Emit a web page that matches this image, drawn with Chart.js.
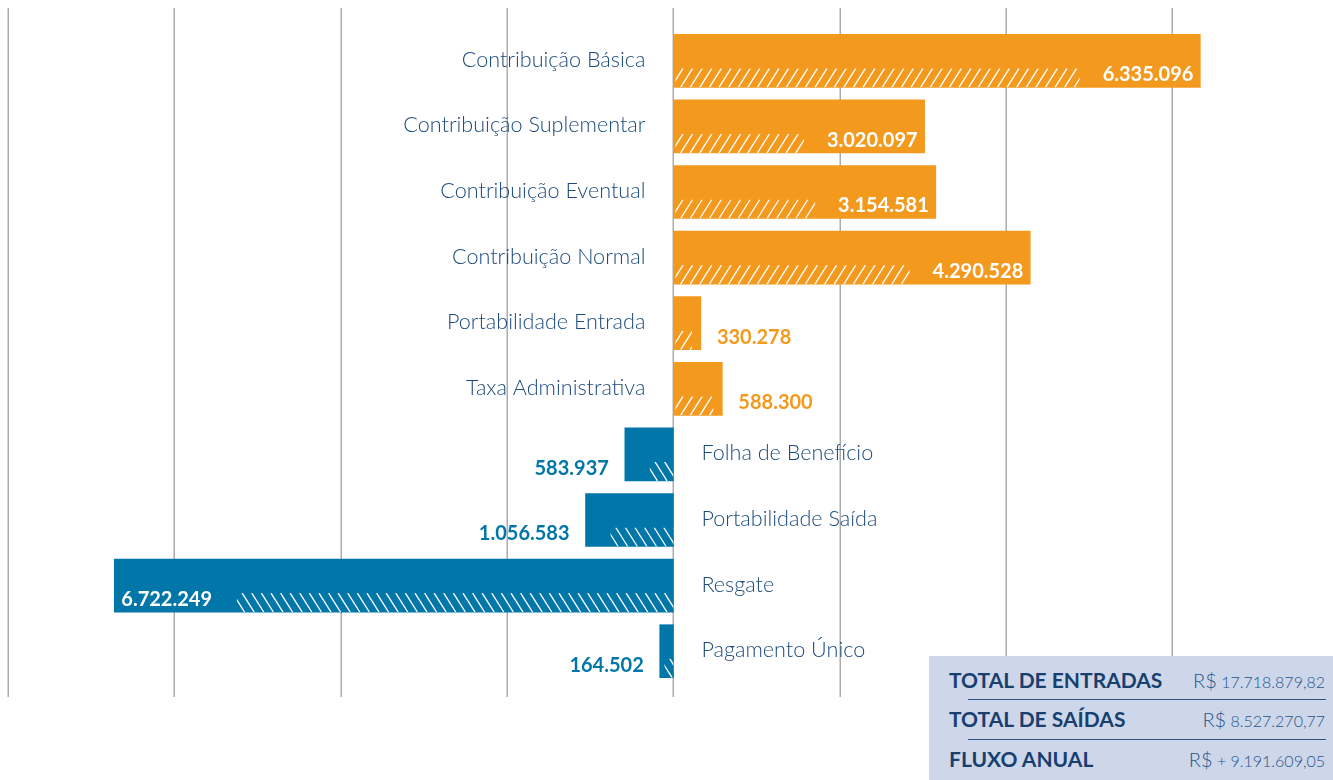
<!DOCTYPE html>
<html><head><meta charset="utf-8">
<script src="https://cdn.jsdelivr.net/npm/chart.js@4.4.1/dist/chart.umd.min.js"></script>
<style>
html,body{margin:0;padding:0;background:#fff;}
#wrap{position:relative;width:1333px;height:780px;overflow:hidden;}
#c{position:absolute;left:0;top:0;}
#totals{position:absolute;left:929px;top:656px;width:404px;height:124px;background:#CED7EA;font-family:Lato,"Open Sans",sans-serif;color:#17406F;}
.row{position:absolute;left:20px;right:8px;height:30px;line-height:30px;}
.row .k{position:absolute;left:0;top:0;font-weight:700;font-size:21px;}
.row .v{position:absolute;right:0;top:0;font-weight:300;color:#22568A;white-space:nowrap;}
.row .v .cur{font-size:20px;}
.row .v .num{font-size:16px;}
.sep{position:absolute;left:39px;right:7px;height:0;border-top:1.5px solid #2B5687;}
</style>
</head><body>
<div id="wrap">
<canvas id="c" width="1333" height="780"></canvas>
<div id="totals"></div>
</div>
<script>
const categories = ['Contribuição Básica','Contribuição Suplementar','Contribuição Eventual','Contribuição Normal','Portabilidade Entrada','Taxa Administrativa','Folha de Benefício','Portabilidade Saída','Resgate','Pagamento Único'];
const values = [6335096, 3020097, 3154581, 4290528, 330278, 588300, -583937, -1056583, -6722249, -164502];
const gridValues = [-8000000, -6000000, -4000000, -2000000, 0, 2000000, 4000000, 6000000];
const totalsLabels = ['TOTAL DE ENTRADAS', 'TOTAL DE SAÍDAS', 'FLUXO ANUAL'];
const totalsValues = ['17.718.879,82', '8.527.270,77', '+ 9.191.609,05'];

const ORANGE = '#F39A1E', BLUE = '#0076A9', LABEL = '#1C4A7C';

function fmt(n){ return String(Math.round(n)).replace(/\B(?=(\d{3})+(?!\d))/g, '.'); }

// totals box
const tb = document.getElementById('totals');
const rowCenters = [24, 63, 103];
totalsLabels.forEach((t,i)=>{
  const r = document.createElement('div'); r.className='row'; r.style.top=(rowCenters[i]-15)+'px';
  r.innerHTML = '<span class="k"></span><span class="v"><span class="cur">R$</span> <span class="num"></span></span>';
  r.querySelector('.k').textContent = t;
  r.querySelector('.num').textContent = totalsValues[i];
  tb.appendChild(r);
});
[43, 83].forEach(y=>{ const s=document.createElement('div'); s.className='sep'; s.style.top=y+'px'; tb.appendChild(s); });

const gridPlugin = {
  id:'gridLines',
  beforeDatasetsDraw(chart){
    const ctx = chart.ctx, xs = chart.scales.x;
    ctx.save(); ctx.strokeStyle = '#ABABAB'; ctx.lineWidth = 1.5;
    gridValues.forEach(v=>{
      const px = Math.round(xs.getPixelForValue(v)) + 0.25;
      ctx.beginPath(); ctx.moveTo(px, 8); ctx.lineTo(px, 697); ctx.stroke();
    });
    ctx.restore();
  }
};

const annotate = {
  id:'annot',
  afterDatasetsDraw(chart){
    const ctx = chart.ctx, xs = chart.scales.x;
    const meta = chart.getDatasetMeta(0);
    const zero = xs.getPixelForValue(0);
    meta.data.forEach((bar,i)=>{
      const v = values[i], pos = v >= 0, dir = pos ? 1 : -1;
      const bottom = bar.y + bar.height/2;
      const end = bar.x, w = Math.abs(end - zero);
      const text = fmt(Math.abs(v));
      ctx.save();
      ctx.font = 'bold 20px Lato, "Open Sans", sans-serif';
      const tw = ctx.measureText(text).width;
      const inside = w > tw + 40;
      let len;
      if (inside) len = w - 7 - tw - 25;
      else len = pos ? w - 11 : (w > 40 ? w - 25 : w * 0.65);
      // hatch
      const bandH = 19;
      const x0 = pos ? zero + 2 : zero - len;
      ctx.beginPath(); ctx.rect(x0, bottom - bandH, len, bandH); ctx.clip();
      ctx.strokeStyle = '#ffffff'; ctx.lineWidth = 1.3;
      for (let x = x0 - 14; x < x0 + len + 14; x += 9.6) {
        ctx.beginPath();
        if (pos) { ctx.moveTo(x, bottom); ctx.lineTo(x + 12, bottom - bandH); }
        else { ctx.moveTo(x, bottom - bandH); ctx.lineTo(x + 12, bottom); }
        ctx.stroke();
      }
      ctx.restore();
      // value label
      ctx.save();
      ctx.font = 'bold 20px Lato, "Open Sans", sans-serif';
      ctx.textBaseline = 'middle';
      const ly = bar.y + 14;
      if (inside) {
        ctx.fillStyle = '#ffffff'; ctx.textAlign = pos ? 'right' : 'left';
        ctx.fillText(text, end - dir * 7, ly);
      } else {
        ctx.fillStyle = pos ? ORANGE : BLUE; ctx.textAlign = pos ? 'left' : 'right';
        ctx.fillText(text, end + dir * 16, ly);
      }
      // category label
      ctx.font = '300 21.6px Lato, "Open Sans", sans-serif';
      ctx.fillStyle = LABEL; ctx.textAlign = pos ? 'right' : 'left';
      ctx.fillText(categories[i], zero - dir * 28, bar.y - 1);
      ctx.restore();
    });
  }
};

function build(){
  new Chart(document.getElementById('c'), {
    type:'bar',
    data:{ labels: categories, datasets:[{ data: values, backgroundColor: values.map(v => v >= 0 ? ORANGE : BLUE), barThickness: 53, borderWidth: 0 }] },
    options:{
      indexAxis:'y', responsive:false, animation:false,
      layout:{ padding:{ left:8, right:0, top:28, bottom:96 } },
      plugins:{ legend:{ display:false }, tooltip:{ enabled:false } },
      scales:{
        x:{ display:false, min:-8000000, max:7930000 },
        y:{ display:false }
      }
    },
    plugins:[gridPlugin, annotate]
  });
}
if (document.fonts && document.fonts.load) {
  Promise.all([document.fonts.load('300 21px Lato'), document.fonts.load('21px Lato'), document.fonts.load('bold 20px Lato')]).then(build, build);
} else build();
</script>
</body></html>
